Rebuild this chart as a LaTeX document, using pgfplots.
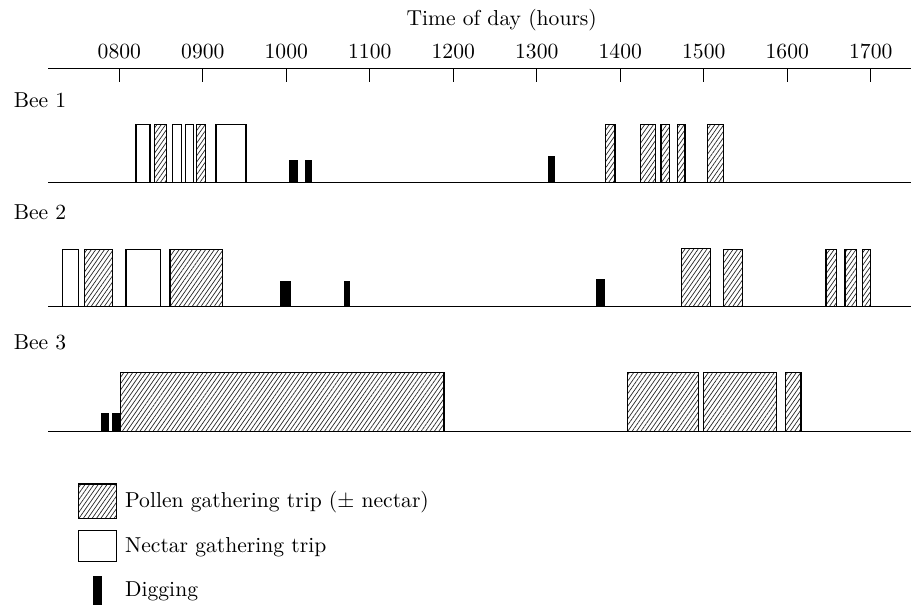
\documentclass[border=0pt]{standalone}
\usepackage{pgfplots}
\pgfplotsset{compat=1.18}
\usetikzlibrary{patterns.meta}

\tikzset{
  pollen/.style={draw=black, line width=0.7pt, pattern={Lines[angle=55, distance=1.8pt, line width=0.35pt]}, pattern color=black!85},
  nectar/.style={draw=black, line width=0.7pt, fill=white},
  digging/.style={draw=black, line width=0.5pt, fill=black},
}
% one trip = one rectangle: start hour, end hour, height (px-units)
\newcommand{\trip}[4]{\addplot[#1, forget plot] coordinates {(#2,0) (#2,#4) (#3,#4) (#3,0)} -- cycle;}

\pgfplotsset{
  beerow/.style={
    width=431.5pt, height=30pt, scale only axis,
    xmin=7.146, xmax=17.482, ymin=0, ymax=60,
    axis x line*=bottom, axis y line=none,
    axis line style={-, line width=0.55pt},
    xtick=\empty, ytick=\empty, clip=false,
    anchor=south west,
  },
}

\begin{document}
\begin{tikzpicture}[font=\fontsize{10.8}{13}\selectfont]
\path[use as bounding box] (0,0) rectangle (455.5pt,-303pt);

% time axis
\begin{axis}[
  at={(24pt,-34.15pt)}, anchor=north west,
  width=431.5pt, height=10pt, scale only axis,
  xmin=7.146, xmax=17.482, ymin=0, ymax=1,
  axis x line*=top, axis y line=none,
  axis line style={-, line width=0.55pt},
  xtick={8,9,10,11,12,13,14,15,16,17},
  xticklabels={0800,0900,1000,1100,1200,1300,1400,1500,1600,1700},
  tick align=inside, major tick length=6.6pt,
  tick style={black, line width=0.55pt},
  xticklabel style={yshift=1pt},
  ytick=\empty,
]
\end{axis}
\node[anchor=base] at (250.85pt,-12.5pt) {Time of day (hours)};

% Bee 1
\node[anchor=base west] at (3.35pt,-53.75pt) {Bee 1};
\begin{axis}[beerow, at={(24pt,-91.35pt)}]
\trip{nectar}{8.200}{8.368}{58}
\trip{pollen}{8.419}{8.568}{58}
\trip{nectar}{8.635}{8.747}{58}
\trip{nectar}{8.795}{8.886}{58}
\trip{pollen}{8.927}{9.035}{58}
\trip{nectar}{9.158}{9.517}{58}
\trip{digging}{10.044}{10.136}{22}
\trip{digging}{10.228}{10.304}{22}
\trip{digging}{13.138}{13.210}{26}
\trip{pollen}{13.825}{13.936}{58}
\trip{pollen}{14.244}{14.424}{58}
\trip{pollen}{14.487}{14.591}{58}
\trip{pollen}{14.687}{14.775}{58}
\trip{pollen}{15.047}{15.234}{58}
\end{axis}

% Bee 2
\node[anchor=base west] at (3.35pt,-109.5pt) {Bee 2};
\begin{axis}[beerow, at={(24pt,-153.35pt)}]
\trip{nectar}{7.322}{7.509}{57}
\trip{pollen}{7.581}{7.921}{57}
\trip{nectar}{8.080}{8.496}{57}
\trip{pollen}{8.607}{9.234}{57}
\trip{digging}{9.925}{10.056}{25}
\trip{digging}{10.695}{10.754}{25}
\trip{digging}{13.717}{13.808}{27}
\trip{pollen}{14.735}{15.082}{58}
\trip{pollen}{15.234}{15.461}{57}
\trip{pollen}{16.463}{16.591}{57}
\trip{pollen}{16.691}{16.831}{57}
\trip{pollen}{16.898}{16.999}{57}
\end{axis}

% Bee 3 (with legend)
\node[anchor=base west] at (3.35pt,-174.5pt) {Bee 3};
\begin{axis}[beerow, at={(24pt,-215.85pt)},
  legend style={at={(0.034,-0.85)}, anchor=north west, draw=none, fill=none,
    inner sep=0pt, row sep=5pt, font=\fontsize{10.8}{13}\selectfont},
  legend cell align=left,
]
\addlegendimage{legend image code/.code={\draw[draw=black, line width=0.7pt, pattern={Lines[angle=55, distance=1.8pt, line width=0.35pt]}, pattern color=black!85] (0pt,-8.6pt) rectangle (19pt,8.6pt);}}
\addlegendentry{\hspace{2pt}Pollen gathering trip ($\pm$ nectar)}
\addlegendimage{legend image code/.code={\draw[draw=black, line width=0.7pt, fill=white] (0pt,-7.8pt) rectangle (19pt,7.8pt); \path[draw=none, fill=none] (0pt,-8.6pt) rectangle (19pt,8.6pt);}}
\addlegendentry{\hspace{2pt}Nectar gathering trip}
\addlegendimage{legend image code/.code={\fill[black] (7.5pt,-7pt) rectangle (11.7pt,7pt); \path[draw=none, fill=none] (0pt,-8.6pt) rectangle (19pt,8.6pt);}}
\addlegendentry{\hspace{2pt}Digging}
\trip{digging}{7.789}{7.876}{18}
\trip{digging}{7.921}{8.008}{18}
\trip{pollen}{8.017}{11.889}{59}
\trip{pollen}{14.084}{14.934}{59}
\trip{pollen}{14.994}{15.873}{59}
\trip{pollen}{15.981}{16.164}{59}
\end{axis}
\end{tikzpicture}
\end{document}
